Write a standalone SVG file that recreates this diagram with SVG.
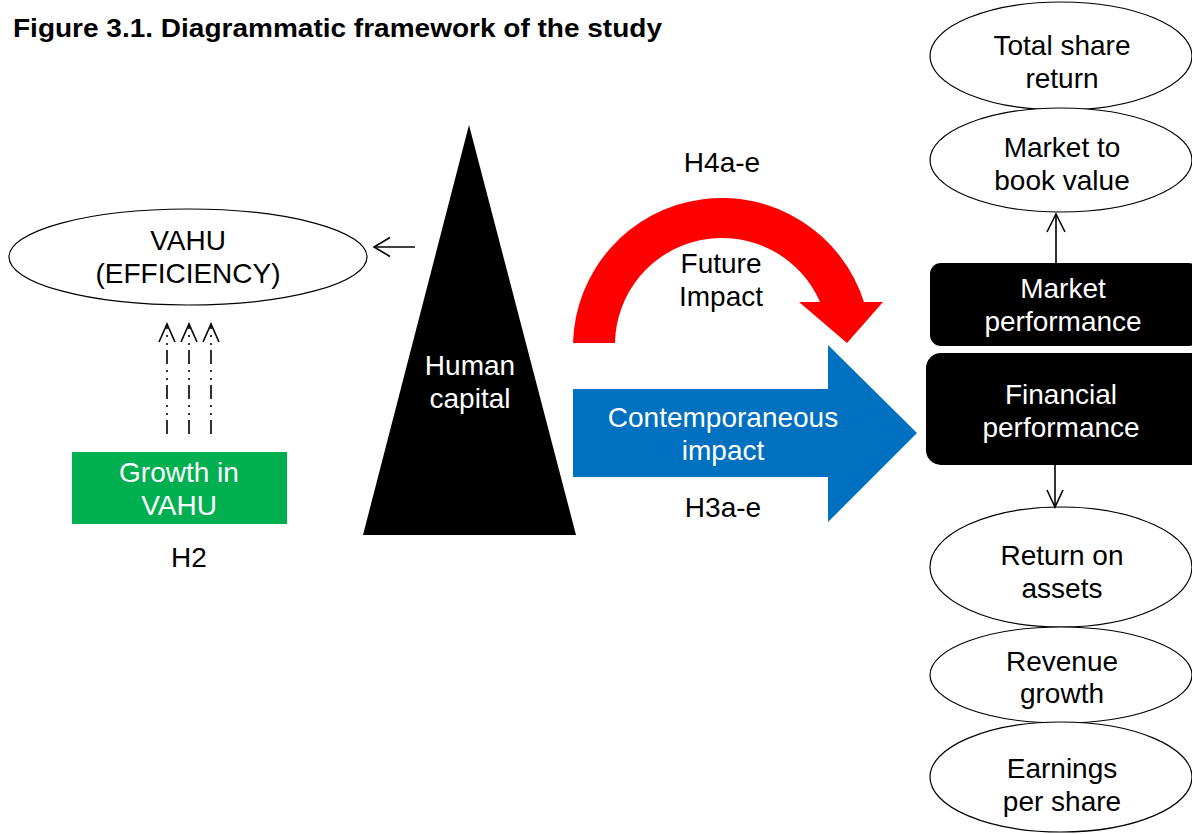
<svg xmlns="http://www.w3.org/2000/svg" width="1192" height="834" viewBox="0 0 1192 834">
<style>
  text { font-family: "Liberation Sans", Arial, sans-serif; font-size: 28px; text-anchor: middle; }
  .w { fill: #ffffff; }
  .k { fill: #000000; }
  .ell { fill: #ffffff; stroke: #000000; stroke-width: 1.2; }
  .conn { stroke: #000000; stroke-width: 1.6; fill: none; }
  .dd { stroke: #000000; stroke-width: 1.6; fill: none; stroke-dasharray: 14 5 2 6 2 6; }
</style>
<rect width="1192" height="834" fill="#ffffff"/>
<text x="13" y="37" style="font-weight:bold;font-size:25px;text-anchor:start" textLength="649" lengthAdjust="spacingAndGlyphs">Figure 3.1. Diagrammatic framework of the study</text>

<g id="total-share-return">
  <ellipse class="ell" cx="1061" cy="56" rx="131" ry="54"/>
  <text x="1062" y="55">Total share</text>
  <text x="1062" y="88">return</text>
</g>
<g id="market-to-book">
  <ellipse class="ell" cx="1061" cy="160" rx="131" ry="52"/>
  <text x="1062" y="157">Market to</text>
  <text x="1062" y="190">book value</text>
</g>
<g id="market-performance">
  <rect x="930" y="263" width="270" height="83" rx="11" fill="#000000"/>
  <text class="w" x="1063" y="298">Market</text>
  <text class="w" x="1063" y="331">performance</text>
</g>
<g id="financial-performance">
  <rect x="926" y="353" width="280" height="112" rx="15" fill="#000000"/>
  <text class="w" x="1061" y="404">Financial</text>
  <text class="w" x="1061" y="437">performance</text>
</g>
<g id="return-on-assets">
  <ellipse class="ell" cx="1061" cy="567" rx="131" ry="60"/>
  <text x="1062" y="565">Return on</text>
  <text x="1062" y="598">assets</text>
</g>
<g id="revenue-growth">
  <ellipse class="ell" cx="1061" cy="675" rx="131" ry="48"/>
  <text x="1062" y="671">Revenue</text>
  <text x="1062" y="703">growth</text>
</g>
<g id="earnings-per-share">
  <ellipse class="ell" cx="1061" cy="777" rx="131" ry="55"/>
  <text x="1062" y="778">Earnings</text>
  <text x="1062" y="811">per share</text>
</g>

<g id="vahu">
  <ellipse class="ell" cx="188" cy="257" rx="179" ry="48"/>
  <text x="188" y="250">VAHU</text>
  <text x="188" y="283">(EFFICIENCY)</text>
</g>
<g id="human-capital">
  <polygon points="469,125 576,535 363,535" fill="#000000"/>
  <text class="w" x="470" y="375">Human</text>
  <text class="w" x="470" y="408">capital</text>
</g>
<g id="growth-in-vahu">
  <rect x="72" y="452" width="215" height="72" fill="#00B050"/>
  <text class="w" x="179" y="482">Growth in</text>
  <text class="w" x="179" y="515">VAHU</text>
  <text x="189" y="567">H2</text>
</g>

<g id="future-impact">
  <path d="M573,343 A149,149 0 0 1 864,302 L883,302 L847,343 L799,302 L820,302 A107,107 0 0 0 615,343 Z" fill="#FF0000"/>
  <text x="722" y="172">H4a-e</text>
  <text x="721" y="273">Future</text>
  <text x="721" y="306">Impact</text>
</g>
<g id="contemporaneous-impact">
  <polygon points="573,389 828,389 828,345 917,433 828,522 828,477 573,477" fill="#0070C0"/>
  <text class="w" x="723" y="427">Contemporaneous</text>
  <text class="w" x="723" y="460">impact</text>
  <text x="723" y="517">H3a-e</text>
</g>

<g id="connectors">
  <line class="conn" x1="415" y1="247" x2="374" y2="247"/>
  <polyline class="conn" points="390,237.5 374,247 390,256.5"/>
  <line class="conn" x1="1056" y1="263" x2="1056" y2="214"/>
  <polyline class="conn" points="1047,232 1056,214 1065,232"/>
  <line class="conn" x1="1055" y1="465" x2="1055" y2="507"/>
  <polyline class="conn" points="1047,490 1055,507 1063,490"/>
  <line class="dd" x1="167" y1="434" x2="167" y2="326"/>
  <line class="dd" x1="189" y1="434" x2="189" y2="326"/>
  <line class="dd" x1="211" y1="434" x2="211" y2="326"/>
  <polyline class="conn" points="159,342 167,324 175,342"/>
  <polyline class="conn" points="181,342 189,324 197,342"/>
  <polyline class="conn" points="203,342 211,324 219,342"/>
</g>
</svg>
